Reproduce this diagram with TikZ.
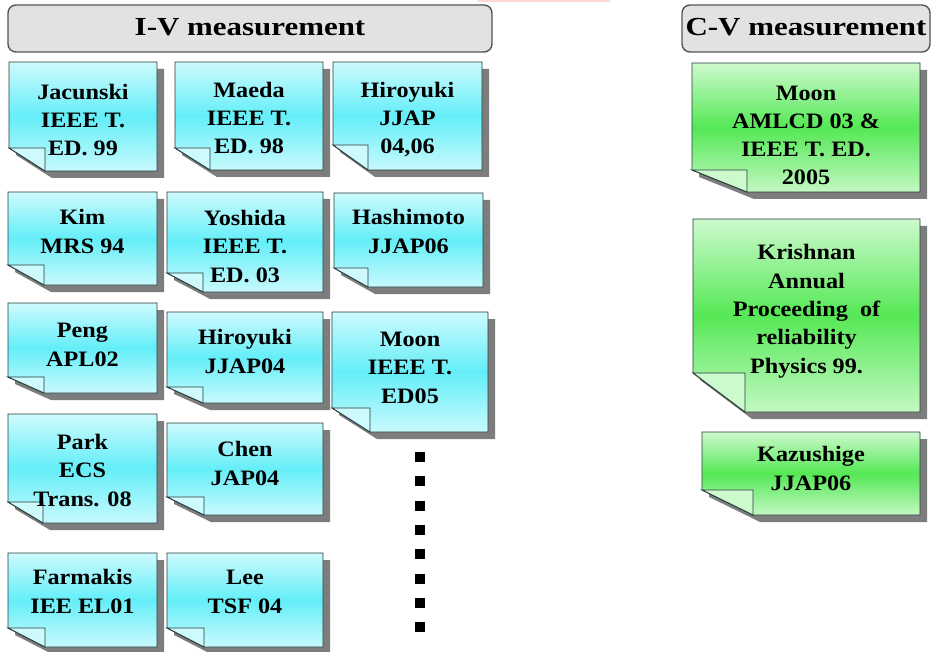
\documentclass[tikz,border=0pt]{standalone}
\usepackage{fontspec}
\setmainfont{Liberation Serif}
\newfontfamily\cardfont[FakeStretch=1.1]{Liberation Serif}
\newfontfamily\headfont[FakeStretch=1.19]{Liberation Serif}
\definecolor{cyanTop}{RGB}{205,250,253}
\definecolor{cyanMid}{RGB}{100,238,248}
\definecolor{cyanBot}{RGB}{200,250,253}
\definecolor{cyanflap}{RGB}{205,250,253}
\definecolor{greenTop}{RGB}{205,250,205}
\definecolor{greenMid}{RGB}{85,232,85}
\definecolor{greenBot}{RGB}{195,248,195}
\definecolor{greenflap}{RGB}{205,250,205}
\definecolor{shadowgray}{RGB}{125,125,125}
\definecolor{edgecol}{RGB}{40,60,60}
\definecolor{headfill}{RGB}{226,226,226}
\definecolor{headedge}{RGB}{85,85,85}
\definecolor{pinkline}{RGB}{255,215,215}
\tikzset{
  cyannote/.style={top color=cyanTop, bottom color=cyanBot, middle color=cyanMid},
  greennote/.style={top color=greenTop, bottom color=greenBot, middle color=greenMid},
  cardshadow/.style={fill=shadowgray},
  cardedge/.style={draw=edgecol, line width=0.9pt, line join=miter},
  cardtext/.style={font=\cardfont\bfseries\fontsize{22}{28.3}\selectfont, align=center, anchor=base, inner sep=0pt},
  headbox/.style={draw=headedge, fill=headfill, line width=1.4pt, rounded corners=8pt},
  headtext/.style={font=\headfont\bfseries\fontsize{26}{30}\selectfont, anchor=base, inner sep=0pt},
  dotsq/.style={fill=black, draw=none, rectangle, minimum size=10pt, inner sep=0pt},
}
\newcommand\notecard[8]{%
  \fill[cardshadow] ({#2+7},{#3+7}) -- ({#4+7},{#3+7}) -- ({#4+7},{#5+7}) -- ({#2+#6+7},{#5+7}) -- ({#2+7},{#5-#7+7}) -- cycle;
  \shade[#8note] (#2,#3) -- (#4,#3) -- (#4,#5) -- ({#2+#6},#5) -- (#2,{#5-#7}) -- cycle;
  \draw[cardedge] (#2,#3) -- (#4,#3) -- (#4,#5) -- ({#2+#6},#5) -- (#2,{#5-#7}) -- cycle;
  \filldraw[cardedge, fill=#8flap] (#2,{#5-#7}) -- ({#2+#6},{#5-#7}) -- ({#2+#6},#5) -- cycle;
  \coordinate (#1) at ({(#2+#4)/2},{(#3+#5)/2});
}
\begin{document}
\begin{tikzpicture}[x=1pt, y=-1pt]
\useasboundingbox (0,0) rectangle (933,652);
\fill[white] (0,0) rectangle (933,652);
\draw[pinkline, line width=1.5pt] (478,0.8) -- (610,0.8);

% headers
\draw[headbox] (8,5) rectangle (492,52);
\node[headtext] (ivhead) at (250,36) {I-V measurement};
\draw[headbox] (682,5) rectangle (930,52);
\node[headtext] (cvhead) at (806,36) {C-V measurement};

% I-V cards (text anchored at the baseline of its last line)
\notecard{jacunski}{9}{62}{157}{171}{36}{23}{cyan}
\node[cardtext] (jacunski-t) at (83,156) {Jacunski\\IEEE T.\\ED. 99};
\notecard{maeda}{175}{62}{323}{170}{35}{22}{cyan}
\node[cardtext] (maeda-t) at (249,154) {Maeda\\IEEE T.\\ED. 98};
\notecard{hiroyukiA}{333}{62}{482}{170}{35}{25}{cyan}
\node[cardtext] (hiroyukiA-t) at (407.5,154) {Hiroyuki\\JJAP\\04,06};

\notecard{kim}{8}{192}{157}{285}{36}{20}{cyan}
\node[cardtext] (kim-t) at (82.5,253) {Kim\\MRS 94};
\notecard{yoshida}{167}{192}{323}{292}{36}{19}{cyan}
\node[cardtext] (yoshida-t) at (245,282) {Yoshida\\IEEE T.\\ED. 03};
\notecard{hashimoto}{334}{193}{483}{287}{34}{19}{cyan}
\node[cardtext] (hashimoto-t) at (408.5,253) {Hashimoto\\JJAP06};

\notecard{peng}{8}{303}{157}{393}{36}{16}{cyan}
\node[cardtext] (peng-t) at (82.5,366) {Peng\\APL02};
\notecard{hiroyukiB}{167}{312}{323}{403}{36}{16}{cyan}
\node[cardtext] (hiroyukiB-t) at (245,373) {Hiroyuki\\JJAP04};
\notecard{moonA}{332}{312}{488}{432}{38}{24}{cyan}
\node[cardtext] (moonA-t) at (410,403) {Moon\\IEEE T.\\ED05};

\notecard{park}{8}{414}{157}{523}{35}{21}{cyan}
\node[cardtext] (park-t) at (82.5,506) {Park\\ECS\\Trans. 08};
\notecard{chen}{167}{423}{323}{515}{37}{18}{cyan}
\node[cardtext] (chen-t) at (245,485) {Chen\\JAP04};

\notecard{farmakis}{8}{553}{157}{647}{37}{19}{cyan}
\node[cardtext] (farmakis-t) at (82.5,613) {Farmakis\\IEE EL01};
\notecard{lee}{167}{553}{323}{647}{37}{19}{cyan}
\node[cardtext] (lee-t) at (245,613) {Lee\\TSF 04};

% dots
\foreach \i in {0,...,7} {
  \node[dotsq] (dot\i) at (420,{457+24.3*\i}) {};
}

% C-V cards
\notecard{moonB}{692}{63}{920}{192}{55}{22}{green}
\node[cardtext] (moonB-t) at (806,185) {Moon\\AMLCD 03 \&\\IEEE T. ED.\\2005};
\notecard{krishnan}{693}{219}{920}{412}{52}{39}{green}
\node[cardtext] (krishnan-t) at (806.5,373) {Krishnan\\Annual\\Proceeding~ of\\reliability\\Physics 99.};
\notecard{kazushige}{702}{432}{920}{515}{51}{25}{green}
\node[cardtext] (kazushige-t) at (811,490) {Kazushige\\JJAP06};
\end{tikzpicture}
\end{document}
